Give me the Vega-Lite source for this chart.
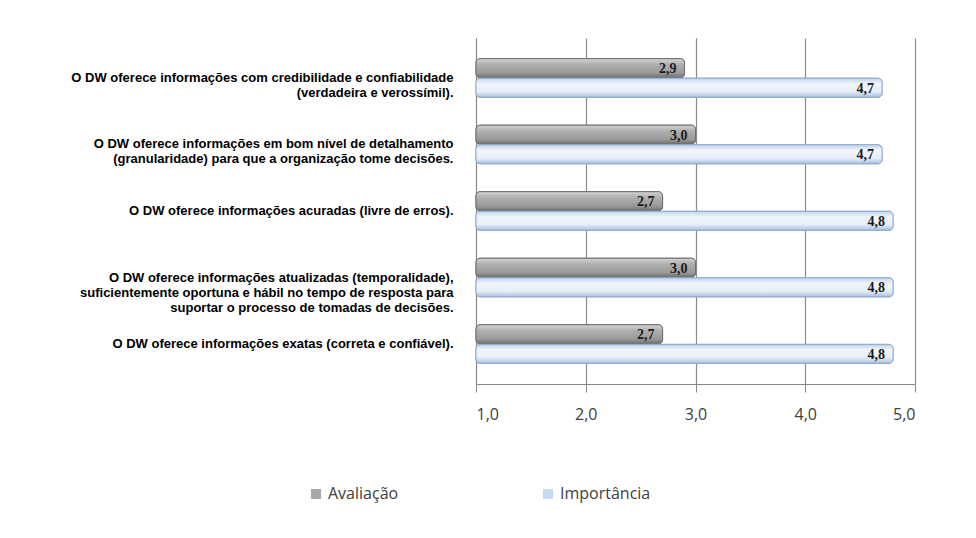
{
  "$schema": "https://vega.github.io/schema/vega-lite/v6.json",
  "autosize": "none",
  "width": 439,
  "height": 346,
  "padding": {"left": 476, "top": 38, "right": 61, "bottom": 154},
  "background": "white",
  "config": {
    "view": {"stroke": null},
    "locale": {"number": {"decimal": ",", "thousands": ".", "grouping": [3], "currency": ["R$", ""]}}
  },
  "data": {"values": [
    {"cat": "O DW oferece informações com credibilidade e confiabilidade|(verdadeira e verossímil).", "serie": "Avaliação", "valor": 2.9, "ord": 1},
    {"cat": "O DW oferece informações com credibilidade e confiabilidade|(verdadeira e verossímil).", "serie": "Importância", "valor": 4.7, "ord": 1},
    {"cat": "O DW oferece informações em bom nível de detalhamento|(granularidade) para que a organização tome decisões.", "serie": "Avaliação", "valor": 3.0, "ord": 2},
    {"cat": "O DW oferece informações em bom nível de detalhamento|(granularidade) para que a organização tome decisões.", "serie": "Importância", "valor": 4.7, "ord": 2},
    {"cat": "O DW oferece informações acuradas (livre de erros).", "serie": "Avaliação", "valor": 2.7, "ord": 3},
    {"cat": "O DW oferece informações acuradas (livre de erros).", "serie": "Importância", "valor": 4.8, "ord": 3},
    {"cat": "O DW oferece informações atualizadas (temporalidade),|suficientemente oportuna e hábil no tempo de resposta para|suportar o processo de tomadas de decisões.", "serie": "Avaliação", "valor": 3.0, "ord": 4},
    {"cat": "O DW oferece informações atualizadas (temporalidade),|suficientemente oportuna e hábil no tempo de resposta para|suportar o processo de tomadas de decisões.", "serie": "Importância", "valor": 4.8, "ord": 4},
    {"cat": "O DW oferece informações exatas (correta e confiável).", "serie": "Avaliação", "valor": 2.7, "ord": 5},
    {"cat": "O DW oferece informações exatas (correta e confiável).", "serie": "Importância", "valor": 4.8, "ord": 5}
  ]},
  "encoding": {
    "y": {
      "field": "cat", "type": "nominal", "sort": {"field": "ord"},
      "scale": {"paddingInner": 0.42, "paddingOuter": 0.31},
      "axis": {
        "title": null, "domain": true, "domainColor": "#868686", "ticks": false,
        "labelExpr": "split(datum.label, '|')",
        "labelFont": "Liberation Sans", "labelFontSize": 13, "labelFontWeight": "bold",
        "labelColor": "#000000", "labelLineHeight": 15, "labelPadding": 23, "labelLimit": 470
      }
    },
    "yOffset": {"field": "serie", "type": "nominal", "scale": {"paddingInner": 0.03}},
    "x": {
      "field": "valor", "type": "quantitative",
      "scale": {"domain": [1, 5], "zero": false, "nice": false},
      "axis": {
        "title": null, "values": [1, 2, 3, 4, 5], "format": ".1f",
        "labelFont": "Open Sans", "labelFontSize": 16, "labelColor": "#404040",
        "labelPadding": 14, "domainColor": "#868686", "tickColor": "#868686", "tickSize": 8,
        "grid": true, "gridColor": "#8c8c8c", "gridWidth": 1.2
      }
    }
  },
  "layer": [
    {
      "mark": {"type": "bar", "strokeWidth": 1, "cornerRadiusEnd": 4},
      "encoding": {
        "x2": {"datum": 1},
        "color": {
          "field": "serie", "type": "nominal",
          "scale": {"domain": ["Avaliação", "Importância"], "range": ["#a6a6a6", "#c6d9f1"]},
          "legend": {
            "title": null, "orient": "none", "direction": "horizontal",
            "legendX": -168, "legendY": 448,
            "symbolType": "square", "symbolSize": 100, "symbolStrokeWidth": 0,
            "labelFont": "Open Sans", "labelFontSize": 16, "labelColor": "#404040",
            "columnPadding": 141, "labelOffset": 4
          }
        },
        "stroke": {
          "field": "serie", "type": "nominal",
          "scale": {"domain": ["Avaliação", "Importância"], "range": ["#6f6f6f", "#8eaad0"]},
          "legend": null
        }
      }
    },
    {
      "transform": [{"filter": "datum.serie === 'Avaliação'"}],
      "mark": {"type": "bar", "strokeWidth": 1, "stroke": "#6f6f6f", "cornerRadiusEnd": 4,
        "fill": {"gradient": "linear", "x1": 0, "y1": 0, "x2": 0, "y2": 1,
          "stops": [{"offset": 0, "color": "#d4d4d4"}, {"offset": 0.3, "color": "#b0b0b0"}, {"offset": 0.75, "color": "#9a9a9a"}, {"offset": 1, "color": "#6e6e6e"}]}},
      "encoding": {"x2": {"datum": 1}}
    },
    {
      "transform": [{"filter": "datum.serie === 'Importância'"}],
      "mark": {"type": "bar", "strokeWidth": 1, "stroke": "#8eaad0", "cornerRadiusEnd": 4,
        "fill": {"gradient": "linear", "x1": 0, "y1": 0, "x2": 0, "y2": 1,
          "stops": [{"offset": 0, "color": "#c0d2ea"}, {"offset": 0.3, "color": "#f2f6fb"}, {"offset": 0.7, "color": "#e6eef8"}, {"offset": 1, "color": "#a9c0de"}]}},
      "encoding": {"x2": {"datum": 1}}
    },
    {
      "mark": {"type": "text", "align": "right", "baseline": "middle", "dx": -8, "dy": 1,
               "font": "Liberation Serif", "fontSize": 14, "fontWeight": "bold", "color": "#1a1a1a"},
      "encoding": {
        "text": {"field": "valor", "type": "quantitative", "format": ".1f"}
      }
    }
  ]
}
